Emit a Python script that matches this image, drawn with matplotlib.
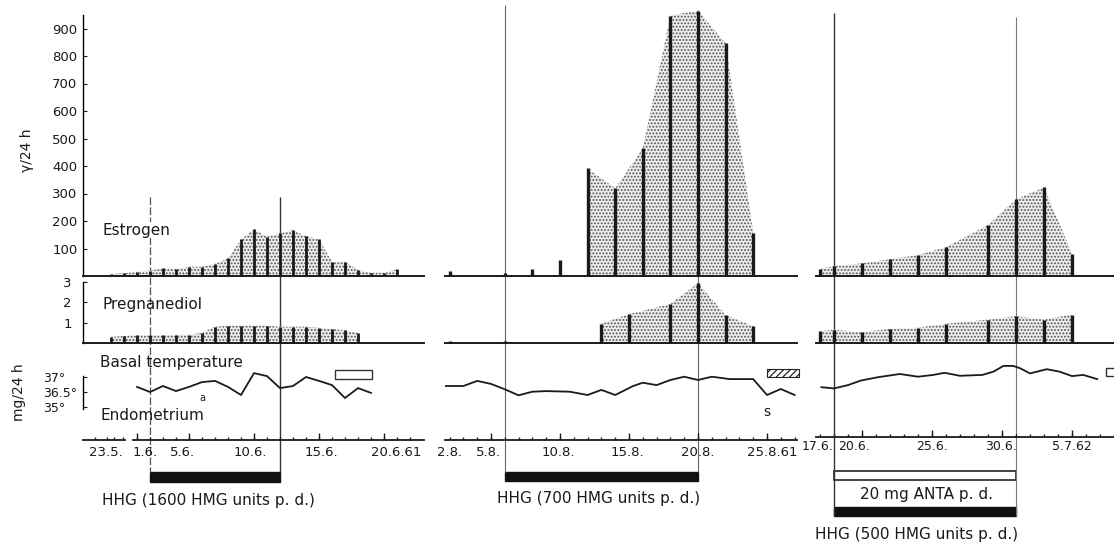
import matplotlib.pyplot as plt
from matplotlib.patches import Rectangle

W, H = 1114, 547

# x values are days counted from each panel's reference date (1.6.61, 5.8.61, 17.6.62)
left_est_days = [-2, -1, 0, 1, 2, 3, 4, 5, 6, 7, 8, 9, 10, 11, 12, 13, 14, 15, 16, 17, 18, 19, 20]
left_est_vals = [7, 10, 15, 20, 28, 24, 34, 34, 44, 64, 133, 170, 143, 155, 167, 145, 133, 52, 52, 22, 12, 12, 24]
left_preg_days = [-2, -1, 0, 1, 2, 3, 4, 5, 6, 7, 8, 9, 10, 11, 12, 13, 14, 15, 16, 17]
left_preg_vals = [0.3, 0.35, 0.38, 0.38, 0.38, 0.4, 0.4, 0.5, 0.8, 0.85, 0.85, 0.85, 0.85, 0.8, 0.8, 0.8, 0.75, 0.7, 0.62, 0.5]
left_temp_days = [0, 1, 2, 3, 4, 5, 6, 7, 8, 9, 10, 11, 12, 13, 14, 15, 16, 17, 18]
left_temp_vals = [36.67, 36.50, 36.70, 36.53, 36.67, 36.83, 36.87, 36.67, 36.40, 37.13,
                  37.03, 36.63, 36.70, 37.00, 36.87, 36.73, 36.30, 36.63, 36.47]

mid_est_days = [-3, 1, 3, 5, 7, 9, 11, 13, 15, 17, 19]
mid_est_vals = [18, 10, 27, 60, 391, 319, 464, 947, 965, 846, 158]
mid_preg_days = [-3, 1, 8, 10, 13, 15, 17, 19]
mid_preg_vals = [0.08, 0.08, 0.95, 1.42, 1.92, 2.95, 1.37, 0.83]
mid_temp_days = [-3.3, -2, -1, 0, 1, 2, 3, 4, 5.7, 7, 8, 9, 10.3, 11, 12, 13, 14, 15, 16, 17.3, 19, 20, 21, 22]
mid_temp_vals = [36.70, 36.70, 36.87, 36.77, 36.59, 36.39, 36.51, 36.53, 36.51, 36.40, 36.57, 36.40,
                 36.70, 36.81, 36.73, 36.90, 37.01, 36.90, 37.01, 36.93, 36.93, 36.40, 36.60, 36.40]

right_est_days = [0, 1, 3, 5, 7, 9, 12, 14, 16, 18]
right_est_vals = [26, 36, 46, 61, 76, 105, 185, 279, 322, 81]
right_preg_days = [0, 1, 3, 5, 7, 9, 12, 14, 16, 18]
right_preg_vals = [0.58, 0.65, 0.53, 0.70, 0.75, 0.95, 1.15, 1.32, 1.15, 1.40]
right_temp_days = [0.1, 1, 2, 2.9, 4.1, 5.7, 7, 8.1, 8.9, 10, 11.6, 12.4, 13.1, 13.8, 14.3, 15, 16.2, 17.1, 18, 18.8, 19.8]
right_temp_vals = [36.66, 36.62, 36.73, 36.88, 36.99, 37.10, 37.01, 37.07, 37.14, 37.04, 37.07,
                   37.18, 37.37, 37.37, 37.29, 37.12, 37.26, 37.18, 37.03, 37.07, 36.93]

# treatment periods (start day, end day)
left_hhg = (1, 11)
mid_hhg = (1, 15)
right_hhg = (1, 14)

# date axis labels: (position, text)
left_dates = [(-2.4, '23.5.'), (0.6, '1.6.'), (3.5, '5.6.'), (8.7, '10.6.'), (14.2, '15.6.'), (19.9, '20.6.61')]
mid_dates = [(-3, '2.8.'), (-0.2, '5.8.'), (4.9, '10.8.'), (9.9, '15.8.'), (15, '20.8.'), (20.4, '25.8.61')]
right_dates = [(-0.2, '17.6.'), (2.4, '20.6.'), (8, '25.6.'), (12.9, '30.6.'), (18, '5.7.62')]

plt.rcParams['font.family'] = 'DejaVu Sans'
plt.rcParams['hatch.linewidth'] = 0.9
INK = '#1a1a1a'

panel_px = [(83, 424), (445, 797), (816, 1114)]
panel_day0_px = [137, 491, 820]
panel_px_per_day = [13, 13.8, 14]


def box(x0, y0, x1, y1):
    return [x0 / W, 1 - y1 / H, (x1 - x0) / W, (y1 - y0) / H]


def ftext(x, y, s, **kw):
    kw.setdefault('color', INK)
    fig.text(x / W, 1 - y / H, s, **kw)


def clean(ax, bottom=True):
    ax.set_facecolor('none')
    for side in ['top', 'right', 'left']:
        ax.spines[side].set_visible(False)
    ax.spines['bottom'].set_visible(bottom)
    ax.spines['bottom'].set_linewidth(1.4)
    ax.spines['bottom'].set_color(INK)
    ax.set_xticks([])
    ax.set_yticks([])


def hormone(ax, days, vals, fill_from, lw):
    ax.fill_between(days[fill_from:], vals[fill_from:], facecolor='#ececec', edgecolor='#555555',
                    hatch='.....', linewidth=0, zorder=1, clip_on=False)
    ax.vlines(days, 0, vals, color=INK, lw=lw, zorder=2, clip_on=False)


fig = plt.figure(figsize=(W / 100, H / 100), dpi=100)

frames, est_axes, preg_axes, temp_axes, date_axes = [], [], [], [], []
for i, ((x0, x1), p0, s) in enumerate(zip(panel_px, panel_day0_px, panel_px_per_day)):
    lim = ((x0 - p0) / s, (x1 - p0) / s)
    frame = fig.add_axes(box(x0, 0, x1, H))
    frame.set_xlim(lim)
    frame.set_ylim(H, 0)
    frame.axis('off')
    est = fig.add_axes(box(x0, 0, x1, 276))
    est.set_xlim(lim)
    est.set_ylim(0, 276 / 27.5 * 100)
    clean(est)
    preg = fig.add_axes(box(x0, 282, x1, 343))
    preg.set_xlim(lim)
    preg.set_ylim(0, 3)
    clean(preg)
    temp = fig.add_axes(box(x0, 360, x1, 420))
    temp.set_xlim(lim)
    temp.set_ylim(36.5 - 28 / 30, 36.5 + 32 / 30)
    clean(temp, bottom=False)
    dy = 422 if i == 2 else 425
    date = fig.add_axes(box(x0, dy, x1, dy + 15))
    date.set_xlim(lim)
    date.set_ylim(0, 15)
    clean(date, bottom=False)
    frames.append(frame)
    est_axes.append(est)
    preg_axes.append(preg)
    temp_axes.append(temp)
    date_axes.append(date)

# y axes on the left panel
est = est_axes[0]
est.spines['left'].set_visible(True)
est.spines['left'].set_bounds(0, 950)
est.spines['left'].set_linewidth(1.0)
est.set_yticks([100, 200, 300, 400, 500, 600, 700, 800, 900])
est.tick_params(axis='y', direction='in', length=3, pad=4, labelsize=9.5, colors=INK)

preg = preg_axes[0]
preg.spines['left'].set_visible(True)
preg.spines['left'].set_linewidth(1.0)
preg.set_yticks([1, 2, 3])
preg.tick_params(axis='y', direction='in', length=3, pad=8, labelsize=9.5, colors=INK)

temp = temp_axes[0]
temp.spines['left'].set_visible(True)
temp.spines['left'].set_bounds(35.93, 37.03)
temp.spines['left'].set_linewidth(1.0)
temp.set_yticks([36.0, 36.5, 37.0], ['35°', '36.5°', '37°'])
temp.tick_params(axis='y', direction='in', length=3, pad=29, labelsize=9, colors=INK)
for lab in temp.get_yticklabels():
    lab.set_horizontalalignment('left')

# hormone bars and temperature curves
hormone(est_axes[0], left_est_days, left_est_vals, 0, 2.0)
hormone(preg_axes[0], left_preg_days, left_preg_vals, 0, 2.0)
temp_axes[0].plot(left_temp_days, left_temp_vals, color=INK, lw=1.3)

hormone(est_axes[1], mid_est_days, mid_est_vals, 4, 2.4)
hormone(preg_axes[1], mid_preg_days, mid_preg_vals, 2, 2.4)
temp_axes[1].plot(mid_temp_days, mid_temp_vals, color=INK, lw=1.3)

hormone(est_axes[2], right_est_days, right_est_vals, 0, 2.4)
hormone(preg_axes[2], right_preg_days, right_preg_vals, 0, 2.4)
temp_axes[2].plot(right_temp_days, right_temp_vals, color=INK, lw=1.3)

# menstruation / endometrium markers on the temperature strip
temp_axes[0].add_patch(Rectangle((15.2, 36.93), 2.9, 0.3, facecolor='white', edgecolor='#333', lw=1.0))
temp_axes[1].add_patch(Rectangle((20, 37.0), 2.3, 0.27, facecolor='white', edgecolor='#222',
                                 hatch='/////', lw=0.8, clip_on=False))
temp_axes[2].add_patch(Rectangle((20.4, 37.03), 1.2, 0.27, facecolor='white', edgecolor='#333', lw=1.0))
temp_axes[0].text(5, 36.3, 'a', fontsize=7, ha='center', va='center', color=INK)
temp_axes[1].text(20, 35.83, 's', fontsize=10, ha='center', va='center', color=INK)


# date axes
def date_axis(ax, segments, minor, major, labels, label_y, size):
    for a, b in segments:
        ax.plot([a, b], [0, 0], color=INK, lw=1.3, clip_on=False)
    ax.vlines(minor, 0, 3, color=INK, lw=1.0)
    ax.vlines(major, 0, 7, color=INK, lw=1.0)
    for pos, txt in labels:
        ax.text(pos, label_y, txt, ha='center', va='center', fontsize=size, color=INK)


date_axis(date_axes[0], [(-4.15, -0.92), (-0.3, 22.08)],
          [-3.2, -2.3, -1.8, -1.1] + list(range(0, 22)), [0, 4, 9, 14, 19], left_dates, -13, 9.5)
date_axis(date_axes[1], [(-3.33, 22.17)], list(range(-3, 23)), [0, 5, 10, 15, 20], mid_dates, -13, 9.5)
date_axis(date_axes[2], [(-0.29, 21.0)], list(range(0, 22)), [3, 8, 13, 18], right_dates, -10, 9)

# treatment lines and bars
frames[0].vlines(left_hhg[0], 197, 472, color='#555', lw=0.9, linestyles=(0, (6, 2)))
frames[0].vlines(left_hhg[1], 197, 472, color='#333', lw=1.0)
frames[0].add_patch(Rectangle((left_hhg[0], 472), left_hhg[1] - left_hhg[0], 10, facecolor='#111', edgecolor='#111'))

frames[1].vlines(mid_hhg[0], 5, 472, color='#666', lw=0.8)
frames[1].vlines(mid_hhg[1], 10, 472, color='#666', lw=0.8)
frames[1].add_patch(Rectangle((mid_hhg[0], 472), mid_hhg[1] - mid_hhg[0], 9, facecolor='#111', edgecolor='#111'))

frames[2].vlines(right_hhg[0], 13, 516, color='#333', lw=1.0)
frames[2].vlines(right_hhg[1], 17, 516, color='#777', lw=0.8)
frames[2].add_patch(Rectangle((right_hhg[0], 471), right_hhg[1] - right_hhg[0], 9, facecolor='white', edgecolor='#222', lw=1.2))
frames[2].add_patch(Rectangle((right_hhg[0], 507), right_hhg[1] - right_hhg[0], 9, facecolor='#111', edgecolor='#111'))

# labels
ftext(102, 230, 'Estrogen', fontsize=11, va='center',
      bbox=dict(facecolor='white', edgecolor='none', pad=0.5))
ftext(102, 305, 'Pregnanediol', fontsize=11, va='center')
ftext(100, 362, 'Basal temperature', fontsize=11, va='center')
ftext(100, 416, 'Endometrium', fontsize=11, va='center')
ftext(27, 150, 'γ/24 h', fontsize=10, rotation=90, ha='center', va='center')
ftext(19, 392, 'mg/24 h', fontsize=10, rotation=90, ha='center', va='center')

ftext(102, 500, 'HHG (1600 HMG units p. d.)', fontsize=11, va='center')
ftext(497, 499, 'HHG (700 HMG units p. d.)', fontsize=11, va='center')
ftext(927, 494, '20 mg ANTA p. d.', fontsize=11, ha='center', va='center')
ftext(815, 535, 'HHG (500 HMG units p. d.)', fontsize=11, va='center')

fig.savefig('out.png', dpi=100, facecolor='white')
